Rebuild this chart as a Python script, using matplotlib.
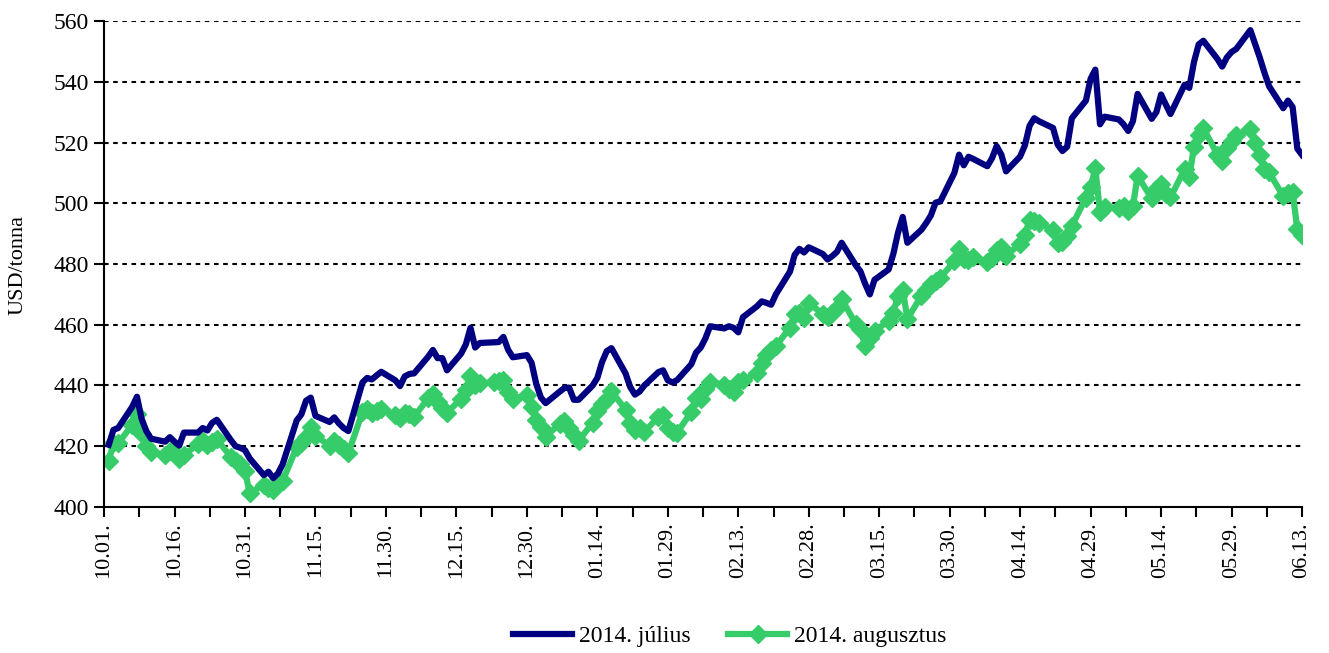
import numpy as np
import pandas as pd
import matplotlib
matplotlib.use("Agg")
import matplotlib.pyplot as plt
import matplotlib.dates as mdates

plt.rcParams['font.family'] = ['Liberation Serif', 'DejaVu Serif']

# trading days, 2013.10.02 - 2014.06.13
dates = pd.bdate_range('2013-10-02', '2014-06-13')

julius = [
    420.5, 425.4, 426,
    433, 436.3, 429, 425, 422.5,
    421.5, 423, 421.5, 420.2, 424.5,
    424.5, 426, 425.2, 427.7, 428.7,
    422, 420, 419.5, 418.7, 416,
    410.5, 411.6, 409.5, 411, 414,
    428.5, 430.5, 435, 436, 430,
    428, 429.5, 427.5, 426, 425,
    441, 442.5, 442, 443.3, 444.5,
    441.7, 439.8, 443, 443.8, 444,
    449.5, 451.7, 449, 449, 445,
    450.5, 453.5, 459, 452.5, 454,
    454.2, 454.3, 456, 451.8, 449.3,
    450, 447.5, 440.5, 436, 434.2,
    438, 439.2, 439.3, 435.3, 435.3,
    440, 442.5, 447.7, 451.3, 452.3,
    444, 439.5, 437, 438, 440,
    444.4, 445, 441.7, 441, 441.8,
    447, 450.8, 452.5, 455.5, 459.5,
    458.8, 459.5, 459, 457.5, 462.5,
    466.1, 467.7, 467.2, 466.6, 470,
    477.5, 483, 485, 483.8, 485.5,
    483.3, 481.5, 482.6, 484, 487,
    479.6, 477.6, 473.5, 470, 474.8,
    478.2, 483.3, 490.3, 495.5, 487,
    491.3, 493.5, 496, 500.2, 500.6,
    510, 516, 512.5, 515.3, 514.6,
    512.2, 514.8, 518.8, 516, 510.5,
    515.4, 519, 525.5, 528, 527,
    524.8, 519.3, 517.2, 518.6, 528,
    533.8, 541, 544, 526, 528.5,
    527.6, 526, 523.8, 527, 536,
    527.8, 530, 535.8, 532.5, 529.4,
    539, 538, 546.5, 552.3, 553.5,
    547.5, 545, 548, 549.8, 550.8,
    557, 552.5, 548, 543, 538.5,
    531.3, 533.8, 531.7, 518, 515.9,
]

augusztus = [
    415.2, 421, 421,
    427, 430.5, 424, 420, 418,
    417.2, 418.3, 417.3, 415.8, 417,
    420.8, 421.6, 420.3, 421.5, 422.3,
    416.5, 415.2, 414, 412, 404.5,
    407.4, 406.4, 405.5, 407.6, 408.5,
    419.7, 421, 423, 426.2, 423.5,
    420.2, 421.8, 420.4, 419, 417.8,
    431.2, 432.3, 430.8, 431.6, 432.4,
    430.3, 429.2, 430.8, 430.5, 429.7,
    435.8, 437.3, 434.6, 432.6, 431,
    435.7, 438.6, 443.1, 440.2, 440.7,
    441, 441.6, 441.8, 438, 435.7,
    436.8, 433, 428.6, 426.3, 423.2,
    427.4, 428.4, 426, 423.8, 421.7,
    427.8, 431.5, 434, 435.4, 438.2,
    432, 427.8, 425.4, 425.9, 424.7,
    429.7, 430.3, 425.9, 424.8, 424.5,
    431.3, 435.8, 435.6, 439, 441.2,
    440.2, 439, 437.7, 441, 441.8,
    444, 447.5, 449.9, 451.6, 453,
    459, 463.5, 464, 462.3, 467.2,
    463.5, 462.6, 464, 465.5, 468.5,
    460.3, 458.5, 453, 455.6, 457.8,
    461.4, 464, 469.5, 471.5, 462,
    469.5, 471.5, 473.3, 474.5, 475.4,
    481, 485, 481.5, 481.3, 482.3,
    480.5, 482.1, 484.6, 485.6, 482.8,
    486.6, 489.5, 494.5, 494.3, 493.5,
    491.3, 486.8, 487.3, 489.2, 492.5,
    501.8, 505.3, 511.5, 497, 498.8,
    498.3, 499.2, 497.5, 499, 509,
    501.6, 504.8, 506.4, 503, 501.9,
    511.2, 508.7, 518.5, 522.6, 524.7,
    516, 514, 518.1, 520.5, 522.4,
    524.5, 519.8, 516, 511.3, 510.2,
    502.3, 503.4, 503.6, 491.5, 489.5,
]

fig = plt.figure(figsize=(13.29, 6.53), dpi=100)
ax = fig.add_axes([0.0783, 0.2236, 0.9014, 0.7442])

ax.plot(dates, augusztus, color='#36CC6A', lw=4.5, marker='D', ms=9,
        label='2014. augusztus', zorder=2)
ax.plot(dates, julius, color='#000080', lw=4.5, label='2014. július', zorder=3)

start = pd.Timestamp('2013-10-01')
end = pd.Timestamp('2014-06-13')
ax.set_xlim(start, end)
ax.set_ylim(400, 560)

major = pd.date_range(start, end, freq='15D')
ax.set_xticks(major)
ax.set_xticks(mdates.date2num(major[:-1]) + 7.5, minor=True)
ax.xaxis.set_major_formatter(mdates.DateFormatter('%m.%d.'))
ax.set_yticks(np.arange(400, 561, 20))

ax.tick_params(axis='x', which='both', direction='out', length=7, width=1.5,
               labelsize=16, rotation=90, pad=4)
ax.tick_params(axis='y', direction='out', length=7, width=1.5, labelsize=17,
               pad=4)

for s in ['top', 'right']:
    ax.spines[s].set_visible(False)
for s in ['left', 'bottom']:
    ax.spines[s].set_linewidth(1.5)

for v in range(420, 561, 20):
    ax.axhline(v, color='black', lw=1.5, ls=(0, (2.2, 2.2)), zorder=1)

fig.text(0.0135, 0.594, 'USD/tonna', rotation=90, ha='center', va='center',
         fontsize=16)

h, l = ax.get_legend_handles_labels()
fig.legend(h[::-1], l[::-1], loc='center', bbox_to_anchor=(0.549, 0.025),
           ncol=2, frameon=False, fontsize=17, handlelength=2.5,
           columnspacing=1.6, handletextpad=0.3)

fig.savefig('out.png', dpi=100)
